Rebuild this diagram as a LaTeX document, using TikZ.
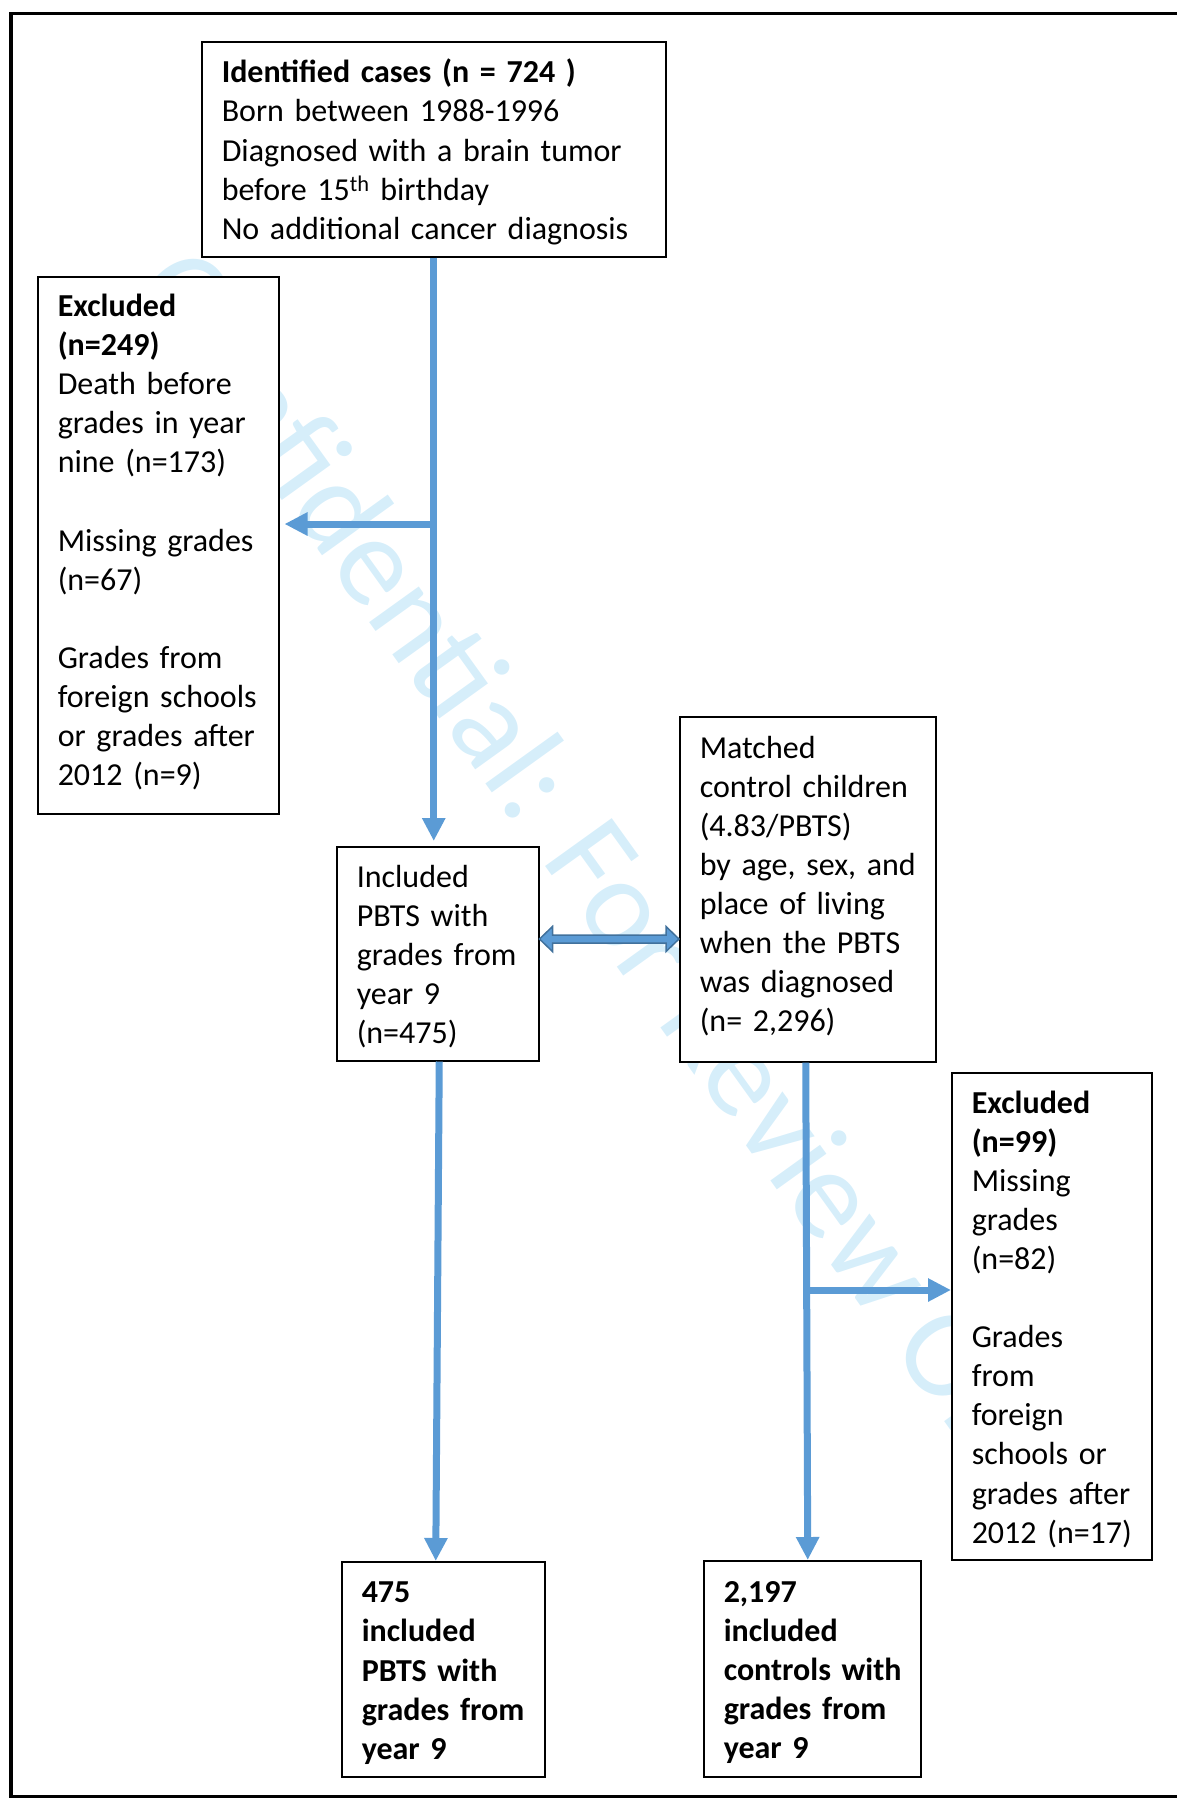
\documentclass[tikz,border=0pt]{standalone}
\usepackage{fontspec}
\setmainfont{Carlito}
\usetikzlibrary{arrows.meta,calc}
\definecolor{arrowblue}{HTML}{5B9BD5}
\definecolor{darkblue}{HTML}{41719C}
\definecolor{wmark}{RGB}{214,238,250}
\newcommand\boxlines[2][-8pt]{\vspace{#1}\noindent\begin{tabular}{@{}l@{}}#2\end{tabular}}
\begin{document}
\begin{tikzpicture}[x=1pt,y=-1pt,
  box/.style={draw=black, line width=1.5pt, fill=white, rectangle, anchor=north west,
    inner xsep=20pt, inner ysep=0pt, align=left, font=\fontsize{32}{39.1}\selectfont},
  flow/.style={draw=arrowblue, line width=7pt, -{Triangle[length=23pt,width=22pt]}},
  dblarrow/.style={fill=arrowblue, draw=darkblue, line width=1.5pt, line join=miter},
  watermark/.style={text=wmark, font=\fontsize{128}{130}\selectfont, inner sep=0pt},
]
\useasboundingbox (0,0) rectangle (1176,1808);
% outer frame
\draw[line width=3.5pt] (11,13.3) rectangle (1190,1796.5);
% watermark
\node[watermark, rotate=-54.3] (wm) at (608,895) {Confidential: For Review Only};
% boxes
\node[box, minimum width=464pt, minimum height=215pt, text width=424pt] (ident) at (201,41)
  {\boxlines{\textbf{Identified cases (n = 724 )}\\
   Born between 1988-1996\\
   Diagnosed with a brain tumor\\
   before 15\smash{\textsuperscript{th}} birthday\\
   No additional cancer diagnosis}};
\node[box, minimum width=241pt, minimum height=537pt, text width=201pt] (excl1) at (37,276)
  {\boxlines[4pt]{\textbf{Excluded}\\
   \textbf{(n=249)}\\
   Death before\\
   grades in year\\
   nine (n=173)\\
   \\
   Missing grades\\
   (n=67)\\
   \\
   Grades from\\
   foreign schools\\
   or grades after\\
   2012 (n=9)}};
\node[box, minimum width=202pt, minimum height=214pt, text width=162pt] (incl) at (336,846)
  {\boxlines{Included\\
   PBTS with\\
   grades from\\
   year 9\\
   (n=475)}};
\node[box, minimum width=256pt, minimum height=345pt, text width=216pt] (match) at (679,716)
  {\boxlines[4pt]{Matched\\
   control children\\
   (4.83/PBTS)\\
   by age, sex, and\\
   place of living\\
   when the PBTS\\
   was diagnosed\\
   (n= 2,296)}};
\node[box, minimum width=200pt, minimum height=487pt, text width=160pt] (excl2) at (951,1072)
  {\boxlines{\textbf{Excluded}\\
   \textbf{(n=99)}\\
   Missing\\
   grades\\
   (n=82)\\
   \\
   Grades\\
   from\\
   foreign\\
   schools or\\
   grades after\\
   2012 (n=17)}};
\node[box, minimum width=203pt, minimum height=215pt, text width=163pt] (fin1) at (341,1561)
  {\boxlines{\textbf{475}\\
   \textbf{included}\\
   \textbf{PBTS with}\\
   \textbf{grades from}\\
   \textbf{year 9}}};
\node[box, minimum width=217pt, minimum height=216pt, text width=177pt] (fin2) at (703,1560)
  {\boxlines{\textbf{2,197}\\
   \textbf{included}\\
   \textbf{controls with}\\
   \textbf{grades from}\\
   \textbf{year 9}}};
% connectors
\coordinate (j1) at (ident.south |- 0,524);
\draw[flow] (ident.south) -- ($(ident.south |- incl.north)+(0,-5)$);
\draw[flow] (j1) -- ($(excl1.east |- j1)+(5,0)$);
\coordinate (da) at (incl.east |- 0,939);
\coordinate (db) at (match.west |- 0,939);
\filldraw[dblarrow] (da) -- ++(13,-12.5) -- ++(0,8.5) -- ($(db)+(-13,-4)$) -- ++(0,-8.5)
  -- (db) -- ++(-13,12.5) -- ++(0,-8.5) -- ($(da)+(13,4)$) -- ++(0,8.5) -- cycle;
\draw[flow] ([xshift=1.5pt]incl.south) -- ([xshift=-7.5pt]fin1.north);
\draw[flow] ([xshift=-2pt]match.south) -- ([xshift=-4.5pt]fin2.north);
\coordinate (j2) at (805.5,1290);
\draw[flow] (j2) -- (excl2.west |- j2);
\end{tikzpicture}
\end{document}
